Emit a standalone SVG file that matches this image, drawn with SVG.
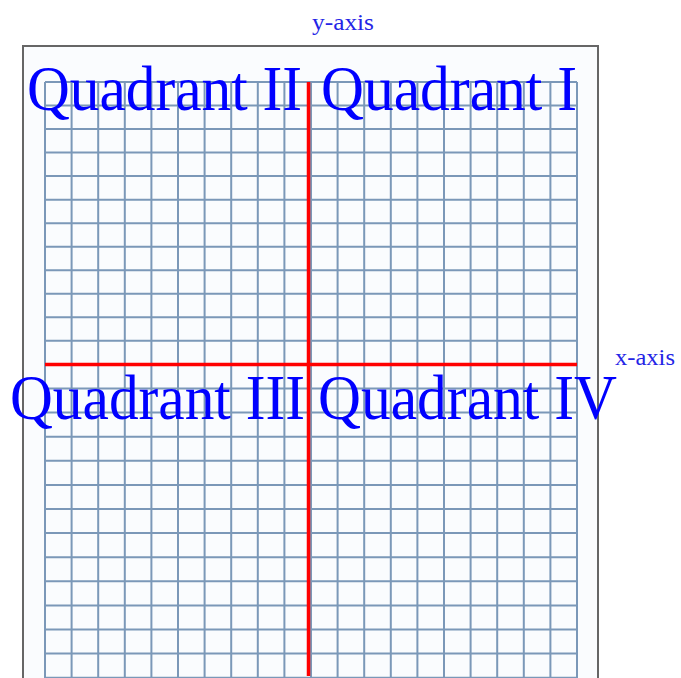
<svg xmlns="http://www.w3.org/2000/svg" width="681" height="678" viewBox="0 0 681 678">
<style>
.grid{stroke:#7b98b8;stroke-width:2;fill:none}
.axis{stroke:#ff0000;stroke-width:3.5;fill:none}
.quad{font-family:"Liberation Serif","Times New Roman",serif;font-size:63px;fill:#0000ff}
.lab{font-family:"Liberation Serif","Times New Roman",serif;font-size:24px;fill:#2424e6}
</style>
<rect width="681" height="678" fill="#ffffff"/>
<g id="frame">
<rect x="23" y="46" width="575" height="640" fill="#fafcfe"/>
<path d="M23,678 V46 H598 V678" fill="none" stroke="#666666" stroke-width="2"/>
</g>
<g id="grid" class="grid">
<path d="M45,82 V678 M71.6,82 V678 M98.2,82 V678 M124.8,82 V678 M151.4,82 V678 M178,82 V678 M204.6,82 V678 M231.2,82 V678 M257.8,82 V678 M284.4,82 V678 M311,82 V678 M337.6,82 V678 M364.2,82 V678 M390.8,82 V678 M417.4,82 V678 M444,82 V678 M470.6,82 V678 M497.2,82 V678 M523.8,82 V678 M550.4,82 V678 M577,82 V678"/>
<path d="M45,82 H577 M45,105.5 H577 M45,129.1 H577 M45,152.6 H577 M45,176.1 H577 M45,199.7 H577 M45,223.2 H577 M45,246.7 H577 M45,270.2 H577 M45,293.8 H577 M45,317.3 H577 M45,340.8 H577 M45,364.4 H577 M45,388.5 H577 M45,412.6 H577 M45,436.7 H577 M45,460.8 H577 M45,484.9 H577 M45,509 H577 M45,533.1 H577 M45,557.2 H577 M45,581.3 H577 M45,605.4 H577 M45,629.5 H577 M45,653.6 H577 M45,677.7 H577"/>
</g>
<g id="axes" class="axis">
<path d="M45,364.5 H577"/>
<path d="M308.5,82 V676"/>
</g>
<g id="label-y-axis"><text class="lab" x="312" y="30" textLength="62" lengthAdjust="spacingAndGlyphs">y-axis</text></g>
<g id="label-x-axis"><text class="lab" x="615" y="365" textLength="60" lengthAdjust="spacingAndGlyphs">x-axis</text></g>
<g id="quadrant-2"><text class="quad" x="27" y="110" textLength="275" lengthAdjust="spacingAndGlyphs">Quadrant II</text></g>
<g id="quadrant-1"><text class="quad" x="321" y="110" textLength="256" lengthAdjust="spacingAndGlyphs">Quadrant I</text></g>
<g id="quadrant-3"><text class="quad" x="10" y="419" textLength="295" lengthAdjust="spacingAndGlyphs">Quadrant III</text></g>
<g id="quadrant-4"><text class="quad" x="318" y="419" textLength="299" lengthAdjust="spacingAndGlyphs">Quadrant IV</text></g>
</svg>
